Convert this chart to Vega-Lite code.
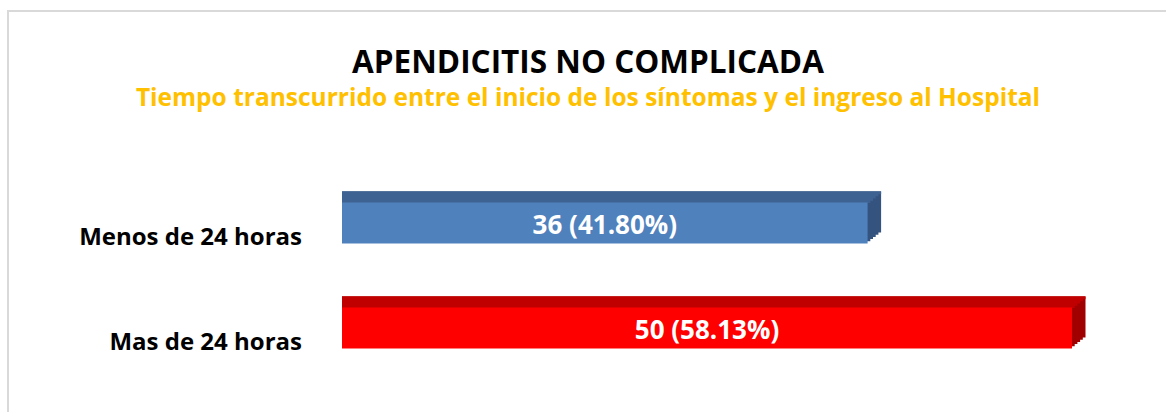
{
  "$schema": "https://vega.github.io/schema/vega-lite/v6.json",
  "width": 1160,
  "height": 405,
  "autosize": {"type": "none"},
  "padding": {"left": 8, "top": 11, "right": 0, "bottom": 0},
  "background": "white",
  "config": {
    "view": {"stroke": "#D9D9D9", "strokeWidth": 2},
    "font": "Open Sans"
  },
  "title": {
    "text": "APENDICITIS NO COMPLICADA",
    "subtitle": "Tiempo transcurrido entre el inicio de los síntomas y el ingreso al  Hospital",
    "anchor": "middle",
    "offset": -99,
    "font": "Open Sans",
    "fontSize": 31.5,
    "fontWeight": "bold",
    "color": "#000000",
    "subtitleFont": "Open Sans",
    "subtitleFontSize": 24.5,
    "subtitleFontWeight": "bold",
    "subtitleColor": "#FFC000",
    "subtitlePadding": 7
  },
  "data": {
    "values": [
      {"cat": "Menos de 24 horas", "n": 36, "label": "36 (41.80%)"},
      {"cat": "Mas de 24 horas", "n": 50, "label": "50 (58.13%)"}
    ]
  },
  "encoding": {
    "y": {
      "field": "cat",
      "type": "nominal",
      "sort": ["Menos de 24 horas", "Mas de 24 horas"],
      "scale": {"range": [159.5, 369.5], "paddingInner": 0.6095, "paddingOuter": 0.3048},
      "axis": null
    }
  },
  "layer": [
    {
      "mark": {"type": "bar", "xOffset": 2.7, "yOffset": -2.2},
      "encoding": {
        "x": {"field": "n", "type": "quantitative", "scale": {"domain": [-22.877, 56.575], "nice": false, "zero": false}, "axis": null},
        "x2": {"datum": 0},
        "color": {"field": "cat", "type": "nominal", "scale": {"domain": ["Menos de 24 horas", "Mas de 24 horas"], "range": ["#34537F", "#A00000"]}, "legend": null}
      }
    },
    {
      "mark": {"type": "bar", "xOffset": 5.4, "yOffset": -4.4},
      "encoding": {
        "x": {"field": "n", "type": "quantitative", "scale": {"domain": [-22.877, 56.575], "nice": false, "zero": false}, "axis": null},
        "x2": {"datum": 0},
        "color": {"field": "cat", "type": "nominal", "scale": {"domain": ["Menos de 24 horas", "Mas de 24 horas"], "range": ["#34537F", "#A00000"]}, "legend": null}
      }
    },
    {
      "mark": {"type": "bar", "xOffset": 8.1, "yOffset": -6.6},
      "encoding": {
        "x": {"field": "n", "type": "quantitative", "scale": {"domain": [-22.877, 56.575], "nice": false, "zero": false}, "axis": null},
        "x2": {"datum": 0},
        "color": {"field": "cat", "type": "nominal", "scale": {"domain": ["Menos de 24 horas", "Mas de 24 horas"], "range": ["#34537F", "#A00000"]}, "legend": null}
      }
    },
    {
      "mark": {"type": "bar", "xOffset": 10.8, "yOffset": -8.8},
      "encoding": {
        "x": {"field": "n", "type": "quantitative", "scale": {"domain": [-22.877, 56.575], "nice": false, "zero": false}, "axis": null},
        "x2": {"datum": 0},
        "color": {"field": "cat", "type": "nominal", "scale": {"domain": ["Menos de 24 horas", "Mas de 24 horas"], "range": ["#34537F", "#A00000"]}, "legend": null}
      }
    },
    {
      "mark": {"type": "bar", "xOffset": 13.5, "yOffset": -11},
      "encoding": {
        "x": {"field": "n", "type": "quantitative", "scale": {"domain": [-22.877, 56.575], "nice": false, "zero": false}, "axis": null},
        "x2": {"datum": 0},
        "color": {"field": "cat", "type": "nominal", "scale": {"domain": ["Menos de 24 horas", "Mas de 24 horas"], "range": ["#34537F", "#A00000"]}, "legend": null}
      }
    },
    {
      "mark": {"type": "bar", "height": 3, "xOffset": 2.7, "yOffset": -21.6},
      "encoding": {
        "x": {"field": "n", "type": "quantitative", "scale": {"domain": [-22.877, 56.575], "nice": false, "zero": false}, "axis": null},
        "x2": {"datum": 0},
        "color": {"field": "cat", "type": "nominal", "scale": {"domain": ["Menos de 24 horas", "Mas de 24 horas"], "range": ["#3E6393", "#C00000"]}, "legend": null}
      }
    },
    {
      "mark": {"type": "bar", "height": 3, "xOffset": 5.4, "yOffset": -23.8},
      "encoding": {
        "x": {"field": "n", "type": "quantitative", "scale": {"domain": [-22.877, 56.575], "nice": false, "zero": false}, "axis": null},
        "x2": {"datum": 0},
        "color": {"field": "cat", "type": "nominal", "scale": {"domain": ["Menos de 24 horas", "Mas de 24 horas"], "range": ["#3E6393", "#C00000"]}, "legend": null}
      }
    },
    {
      "mark": {"type": "bar", "height": 3, "xOffset": 8.1, "yOffset": -26},
      "encoding": {
        "x": {"field": "n", "type": "quantitative", "scale": {"domain": [-22.877, 56.575], "nice": false, "zero": false}, "axis": null},
        "x2": {"datum": 0},
        "color": {"field": "cat", "type": "nominal", "scale": {"domain": ["Menos de 24 horas", "Mas de 24 horas"], "range": ["#3E6393", "#C00000"]}, "legend": null}
      }
    },
    {
      "mark": {"type": "bar", "height": 3, "xOffset": 10.8, "yOffset": -28.2},
      "encoding": {
        "x": {"field": "n", "type": "quantitative", "scale": {"domain": [-22.877, 56.575], "nice": false, "zero": false}, "axis": null},
        "x2": {"datum": 0},
        "color": {"field": "cat", "type": "nominal", "scale": {"domain": ["Menos de 24 horas", "Mas de 24 horas"], "range": ["#3E6393", "#C00000"]}, "legend": null}
      }
    },
    {
      "mark": {"type": "bar", "height": 3, "xOffset": 13.5, "yOffset": -30.2},
      "encoding": {
        "x": {"field": "n", "type": "quantitative", "scale": {"domain": [-22.877, 56.575], "nice": false, "zero": false}, "axis": null},
        "x2": {"datum": 0},
        "color": {"field": "cat", "type": "nominal", "scale": {"domain": ["Menos de 24 horas", "Mas de 24 horas"], "range": ["#3E6393", "#C00000"]}, "legend": null}
      }
    },
    {
      "mark": {"type": "bar"},
      "encoding": {
        "x": {"field": "n", "type": "quantitative", "scale": {"domain": [-22.877, 56.575], "nice": false, "zero": false}, "axis": null},
        "x2": {"datum": 0},
        "color": {"field": "cat", "type": "nominal", "scale": {"domain": ["Menos de 24 horas", "Mas de 24 horas"], "range": ["#4F81BD", "#FF0000"]}, "legend": null}
      }
    },
    {
      "mark": {"type": "text", "font": "Open Sans", "fontWeight": "bold", "fontSize": 26, "color": "white", "align": "center", "baseline": "middle", "dy": 3},
      "encoding": {
        "x": {"field": "n", "type": "quantitative", "scale": {"domain": [-45.754, 113.15], "nice": false, "zero": false}, "axis": null},
        "text": {"field": "label"}
      }
    },
    {
      "mark": {"type": "text", "font": "Open Sans", "fontWeight": "bold", "fontSize": 24, "color": "black", "align": "right", "baseline": "middle", "dx": -40, "dy": 15},
      "encoding": {
        "x": {"datum": 0, "type": "quantitative", "scale": {"domain": [-22.877, 56.575], "nice": false, "zero": false}, "axis": null},
        "text": {"field": "cat"}
      }
    }
  ],
  "resolve": {"scale": {"x": "independent", "color": "independent"}}
}
